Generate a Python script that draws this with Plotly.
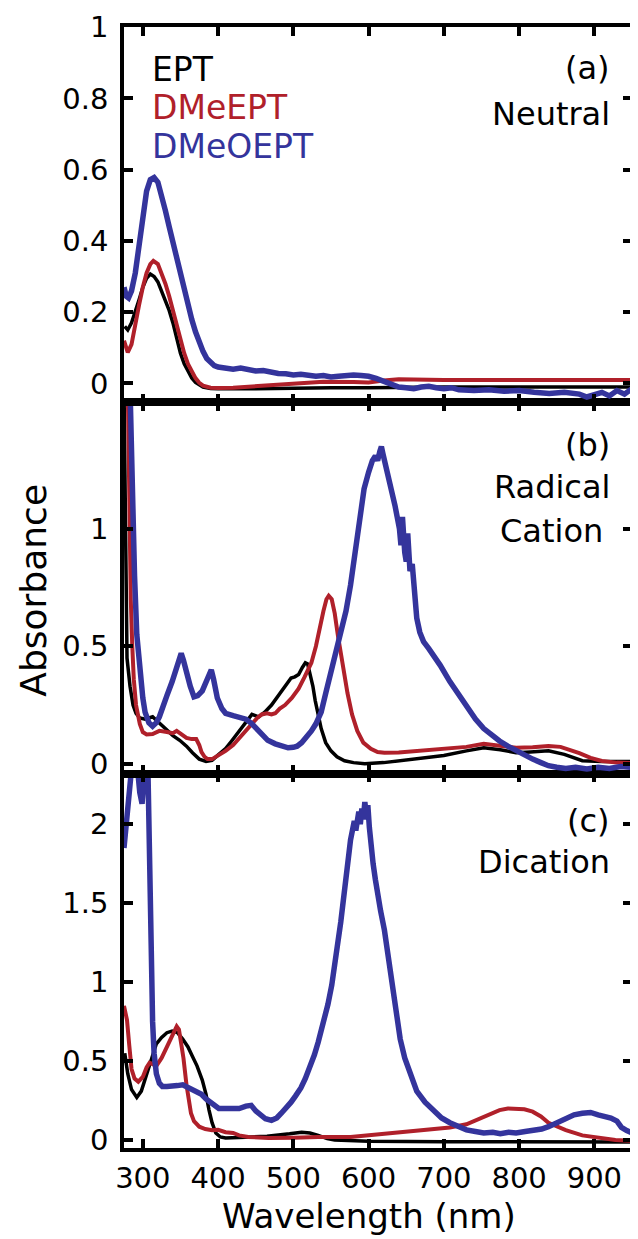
import plotly.graph_objects as go

# ---------------- data ----------------
# Panel (a) Neutral
wl_a_ept = [276, 280, 285, 290, 295, 300, 305, 310, 315, 320, 325, 330, 335, 340, 345, 350, 355, 360, 365, 370,
            380, 390, 400, 450, 500, 550, 600, 650, 700, 750, 800, 850, 900, 950]
abs_a_ept = [0.16, 0.15, 0.17, 0.20, 0.235, 0.27, 0.295, 0.307, 0.30, 0.285, 0.26, 0.235, 0.205, 0.17, 0.13, 0.085,
             0.055, 0.033, 0.015, 0.003, -0.01, -0.014, -0.015, -0.015, -0.013, -0.012, -0.012, -0.01, -0.01,
             -0.01, -0.01, -0.01, -0.01, -0.01]

wl_a_dme = [275, 280, 285, 290, 295, 300, 305, 310, 314, 320, 325, 330, 335, 340, 345, 350, 355, 360, 365, 370,
            375, 380, 390, 400, 420, 450, 480, 500, 540, 580, 600, 620, 640, 700, 800, 900, 950]
abs_a_dme = [0.12, 0.087, 0.11, 0.17, 0.22, 0.27, 0.31, 0.335, 0.344, 0.335, 0.31, 0.28, 0.245, 0.205, 0.165, 0.12,
             0.085, 0.055, 0.032, 0.015, 0.002, -0.006, -0.012, -0.013, -0.012, -0.008, -0.003, 0.0, 0.005, 0.004,
             0.003, 0.008, 0.012, 0.01, 0.01, 0.01, 0.01]

wl_a_dmeo = [275, 278, 281, 285, 290, 295, 300, 305, 310, 315, 320, 325, 330, 335, 340, 345, 350, 355, 360, 365,
             370, 375, 380, 385, 390, 395, 400, 410, 420, 430, 440, 450, 460, 470, 480, 490, 500, 510, 520, 530,
             540, 550, 560, 570, 580, 590, 600, 610, 620, 630, 640, 650, 660, 670, 680, 690, 700, 710, 720, 740,
             760, 780, 800, 820, 840, 860, 880, 890, 900, 910, 920, 930, 940, 950]
abs_a_dmeo = [0.27, 0.245, 0.24, 0.26, 0.31, 0.39, 0.47, 0.54, 0.572, 0.578, 0.565, 0.53, 0.485, 0.44, 0.395, 0.35,
              0.30, 0.26, 0.22, 0.18, 0.145, 0.115, 0.09, 0.07, 0.058, 0.05, 0.046, 0.042, 0.04, 0.043, 0.038,
              0.035, 0.036, 0.03, 0.028, 0.027, 0.024, 0.026, 0.022, 0.02, 0.022, 0.018, 0.02, 0.022, 0.024, 0.022,
              0.02, 0.014, 0.005, -0.005, -0.01, -0.012, -0.015, -0.01, -0.008, -0.012, -0.015, -0.012, -0.018,
              -0.02, -0.018, -0.022, -0.02, -0.025, -0.028, -0.025, -0.03, -0.038, -0.03, -0.025, -0.035, -0.02,
              -0.03, -0.015]

# Panel (b) Radical Cation
wl_b_ept = [275, 277, 279, 283, 287, 291, 296, 303, 308, 313, 318, 325, 332, 340, 349, 358, 366, 375, 384, 392,
            401, 410, 418, 428, 437, 445, 454, 462, 471, 478, 484, 490, 497, 502, 507, 512, 516, 519, 522, 526,
            529, 533, 537, 543, 550, 558, 568, 580, 595, 620, 664, 700, 730, 753, 775, 796, 815, 839, 860, 884,
            910, 950]
abs_b_ept = [1.6, 0.9, 0.45, 0.33, 0.25, 0.215, 0.195, 0.19, 0.195, 0.2, 0.185, 0.165, 0.14, 0.12, 0.1, 0.075,
             0.047, 0.02, 0.01, 0.015, 0.04, 0.065, 0.097, 0.14, 0.18, 0.21, 0.2, 0.22, 0.25, 0.28, 0.31, 0.335,
             0.365, 0.37, 0.38, 0.41, 0.43, 0.425, 0.39, 0.33, 0.27, 0.21, 0.15, 0.09, 0.055, 0.03, 0.013, 0.005,
             0.0, 0.005, 0.02, 0.035, 0.055, 0.068, 0.06, 0.047, 0.05, 0.055, 0.04, 0.013, 0.01, 0.01]

wl_b_dme = [280, 282, 284, 286, 288, 291, 296, 300, 305, 313, 322, 332, 340, 345, 350, 358, 365, 371, 375, 378,
            382, 386, 392, 400, 410, 420, 428, 437, 445, 452, 458, 465, 471, 476, 482, 489, 498, 507, 515, 524,
            530, 535, 540, 544, 547, 551, 555, 559, 565, 572, 578, 585, 593, 603, 612, 621, 640, 664, 690, 708,
            730, 753, 775, 796, 818, 839, 855, 868, 880, 895, 910, 930, 950]
abs_b_dme = [1.6, 1.0, 0.7, 0.5, 0.36, 0.25, 0.17, 0.135, 0.125, 0.127, 0.14, 0.135, 0.13, 0.14, 0.13, 0.11,
             0.105, 0.105, 0.08, 0.05, 0.03, 0.02, 0.02, 0.035, 0.055, 0.08, 0.11, 0.14, 0.17, 0.195, 0.21, 0.215,
             0.21, 0.215, 0.235, 0.25, 0.28, 0.32, 0.37, 0.43, 0.5, 0.58, 0.65, 0.7, 0.715, 0.7, 0.64, 0.55, 0.43,
             0.30, 0.21, 0.14, 0.09, 0.064, 0.05, 0.047, 0.048, 0.055, 0.06, 0.064, 0.072, 0.085, 0.075, 0.068,
             0.07, 0.076, 0.072, 0.06, 0.045, 0.025, 0.012, 0.005, 0.003]

wl_b_dmeo = [283, 285, 287, 289, 292, 296, 300, 303, 308, 313, 318, 322, 326, 332, 339, 345, 349, 351, 354, 358,
             363, 368, 373, 379, 385, 389, 391, 394, 399, 405, 410, 420, 428, 437, 445, 452, 458, 466, 476, 485,
             493, 500, 505, 511, 517, 524, 530, 537, 543, 550, 556, 563, 570, 576, 582, 588, 594, 600, 605, 609,
             612, 615, 617, 619, 622, 625, 629, 632, 635, 638, 641, 643, 645, 648, 650, 652, 655, 658, 661, 664,
             668, 673, 680, 687, 695, 708, 720, 730, 742, 753, 764, 774, 785, 796, 807, 818, 829, 839, 850, 862,
             875, 890, 905, 920, 935, 950]
abs_b_dmeo = [1.6, 1.3, 1.0, 0.8, 0.55, 0.4, 0.28, 0.22, 0.175, 0.16, 0.175, 0.2, 0.24, 0.29, 0.35, 0.42, 0.46,
              0.47, 0.44, 0.38, 0.33, 0.285, 0.29, 0.31, 0.36, 0.39, 0.40, 0.36, 0.28, 0.235, 0.215, 0.205, 0.2,
              0.19, 0.17, 0.145, 0.12, 0.1, 0.085, 0.075, 0.068, 0.07, 0.075, 0.09, 0.11, 0.14, 0.17, 0.22, 0.3,
              0.39, 0.46, 0.55, 0.65, 0.76, 0.9, 1.04, 1.17, 1.24, 1.29, 1.31, 1.29, 1.33, 1.35, 1.32, 1.28, 1.25,
              1.2, 1.15, 1.1, 1.05, 1.0, 0.93, 1.05, 0.9, 0.86, 0.98, 0.82, 0.85, 0.76, 0.62, 0.56, 0.52, 0.49,
              0.46, 0.42, 0.35, 0.29, 0.24, 0.19, 0.15, 0.12, 0.097, 0.075, 0.055, 0.04, 0.02, 0.005, -0.008,
              -0.015, -0.02, -0.015, -0.022, -0.015, -0.02, -0.012, -0.015]

# Panel (c) Dication
wl_c_ept = [276, 280, 285, 292, 298, 305, 312, 318, 325, 332, 339, 346, 353, 360, 366, 372, 379, 384, 388, 392,
            397, 403, 410, 430, 445, 465, 480, 495, 511, 522, 533, 545, 555, 600, 700, 800, 900, 950]
abs_c_ept = [0.55, 0.42, 0.32, 0.27, 0.31, 0.42, 0.53, 0.61, 0.65, 0.68, 0.69, 0.68, 0.64, 0.59, 0.53, 0.47, 0.38,
             0.29, 0.19, 0.11, 0.045, 0.02, 0.013, 0.015, 0.02, 0.025, 0.03, 0.04, 0.05, 0.045, 0.03, 0.01, 0.0,
             -0.008, -0.01, -0.01, -0.012, -0.012]

wl_c_dme = [275, 279, 282, 285, 289, 294, 300, 305, 309, 313, 318, 325, 332, 338, 342, 345, 348, 351, 354, 358,
            361, 364, 368, 375, 383, 392, 400, 410, 420, 428, 440, 467, 500, 533, 576, 621, 664, 708, 730, 743,
            760, 774, 785, 796, 807, 818, 829, 839, 850, 862, 884, 905, 928, 950]
abs_c_dme = [0.85, 0.76, 0.6, 0.45, 0.39, 0.37, 0.40, 0.46, 0.49, 0.48, 0.47, 0.52, 0.59, 0.65, 0.69, 0.72, 0.7,
             0.62, 0.52, 0.35, 0.24, 0.17, 0.12, 0.085, 0.07, 0.063, 0.065, 0.05, 0.045, 0.03, 0.02, 0.013, 0.015,
             0.02, 0.02, 0.04, 0.063, 0.08, 0.1, 0.127, 0.16, 0.19, 0.2, 0.2, 0.195, 0.18, 0.15, 0.11, 0.085,
             0.063, 0.03, 0.015, 0.0, -0.005]

wl_c_dmeo = [275, 278, 281, 284, 287, 290, 293, 296, 299, 302, 305, 307, 309, 311, 313, 315, 318, 322, 326, 332,
             339, 346, 353, 362, 371, 378, 384, 392, 401, 410, 418, 428, 437, 444, 450, 456, 463, 471, 478, 484,
             490, 497, 503, 510, 516, 522, 528, 533, 540, 546, 551, 555, 559, 563, 566, 568, 571, 574, 576, 579,
             581, 583, 585, 587, 589, 591, 593, 595, 597, 599, 601, 603, 606, 609, 612, 616, 621, 625, 629, 635,
             642, 648, 655, 664, 675, 687, 697, 708, 720, 730, 742, 753, 765, 775, 786, 796, 808, 818, 830, 839,
             850, 862, 873, 884, 895, 905, 914, 922, 930, 936, 943, 950]
abs_c_dmeo = [1.85, 2.0, 2.2, 2.4, 2.45, 2.4, 2.35, 2.2, 2.13, 2.3, 2.45, 2.3, 1.6, 1.1, 0.75, 0.55, 0.42, 0.36,
              0.34, 0.34, 0.34, 0.345, 0.35, 0.33, 0.31, 0.29, 0.26, 0.23, 0.2, 0.2, 0.2, 0.2, 0.215, 0.22, 0.185,
              0.16, 0.135, 0.125, 0.14, 0.17, 0.2, 0.24, 0.28, 0.33, 0.39, 0.46, 0.54, 0.62, 0.74, 0.86, 0.98,
              1.1, 1.22, 1.38, 1.5, 1.6, 1.71, 1.82, 1.9, 1.98, 2.02, 1.96, 2.05, 2.08, 2.0, 2.1, 2.03, 2.14, 2.06,
              2.12, 1.98, 1.85, 1.75, 1.65, 1.55, 1.45, 1.33, 1.2, 1.05, 0.85, 0.64, 0.52, 0.43, 0.31, 0.24, 0.18,
              0.14, 0.11, 0.085, 0.065, 0.055, 0.045, 0.05, 0.04, 0.05, 0.045, 0.055, 0.06, 0.07, 0.085, 0.11,
              0.14, 0.16, 0.17, 0.175, 0.16, 0.15, 0.14, 0.12, 0.08, 0.06, 0.045]

series_names = ["EPT", "DMeEPT", "DMeOEPT"]
x_ticks = [300, 400, 500, 600, 700, 800, 900]
y_ticks_a = [0, 0.2, 0.4, 0.6, 0.8, 1]
y_ticks_b = [0, 0.5, 1]
y_ticks_c = [0, 0.5, 1, 1.5, 2]

# ---------------- styling ----------------
BLACK = "#000000"
RED = "#b0202a"
BLUE = "#34349c"
colors = [BLACK, RED, BLUE]
widths = [3.5, 4, 5.5]
FONT = "DejaVu Sans"

# the page body has an 8 px margin; target pixel positions are in window coordinates
OFF = 8
W, H = 638 - OFF, 1239 - OFF
LEFT, RIGHT, TOP, BOTTOM = 124, 636, 25, 1148   # plot area in window pixels
ML, MT = LEFT - OFF, TOP - OFF
MR = W - (RIGHT - OFF)
MB = H - (BOTTOM - OFF)
plot_h = BOTTOM - TOP
plot_w = RIGHT - LEFT


def py(p):  # window pixel y -> paper
    return (BOTTOM - p) / plot_h


def px(p):  # window pixel x -> paper
    return (p - LEFT) / plot_w


fig = go.Figure()

panels = [
    ("x3", "y3", [(wl_a_ept, abs_a_ept), (wl_a_dme, abs_a_dme), (wl_a_dmeo, abs_a_dmeo)]),
    ("x2", "y2", [(wl_b_ept, abs_b_ept), (wl_b_dme, abs_b_dme), (wl_b_dmeo, abs_b_dmeo)]),
    ("x", "y", [(wl_c_ept, abs_c_ept), (wl_c_dme, abs_c_dme), (wl_c_dmeo, abs_c_dmeo)]),
]
for xa, ya, curves in panels:
    for i, (xs, ys) in enumerate(curves):
        fig.add_trace(go.Scatter(x=xs, y=ys, mode="lines", name=series_names[i],
                                 line=dict(color=colors[i], width=widths[i]),
                                 xaxis=xa, yaxis=ya, showlegend=False))

b1 = py(773)
b2 = py(401)

common_x = dict(range=[275, 950], tickvals=x_ticks, ticks="inside", ticklen=9, tickwidth=3.5,
                tickcolor=BLACK, showline=True, linewidth=3.5, linecolor=BLACK, mirror="ticks",
                showgrid=False, zeroline=False, tickfont=dict(family=FONT, size=29, color=BLACK))
common_y = dict(ticks="inside", ticklen=9, tickwidth=3.5, tickcolor=BLACK, showline=True, linewidth=3.5,
                linecolor=BLACK, mirror="ticks", showgrid=False, zeroline=False,
                tickfont=dict(family=FONT, size=29, color=BLACK), ticklabelstandoff=6)

fig.update_layout(
    width=W, height=H,
    margin=dict(l=ML, r=MR, t=MT, b=MB, pad=0),
    paper_bgcolor="white", plot_bgcolor="white",
    xaxis=dict(common_x, anchor="y", ticklabelstandoff=1),
    xaxis2=dict(common_x, anchor="y2", showticklabels=False),
    xaxis3=dict(common_x, anchor="y3", showticklabels=False),
    yaxis=dict(common_y, domain=[0, b1], range=[-0.05, 2.32], tickvals=y_ticks_c, anchor="x"),
    yaxis2=dict(common_y, domain=[b1, b2], range=[-0.042, 1.538], tickvals=y_ticks_b, anchor="x2"),
    yaxis3=dict(common_y, domain=[b2, 1], range=[-0.053, 1.0005], tickvals=y_ticks_a, anchor="x3"),
)

ann = []
# legend texts
for name, col, yp in zip(series_names, colors, [68, 106, 145]):
    ann.append(dict(text=name, x=px(150), y=py(yp), xref="paper", yref="paper", xanchor="left",
                    yanchor="middle", showarrow=False, font=dict(family=FONT, size=33, color=col)))
# panel labels
for txt, yp in [("(a)", 66), ("Neutral", 112), ("(b)", 444), ("(c)", 820), ("Dication", 861)]:
    ann.append(dict(text=txt, x=px(616), y=py(yp), xref="paper", yref="paper", xanchor="right",
                    yanchor="middle", showarrow=False, font=dict(family=FONT, size=32, color=BLACK)))
for txt, yp in [("Radical", 486), ("Cation", 530)]:
    ann.append(dict(text=txt, x=px(555), y=py(yp), xref="paper", yref="paper", xanchor="center",
                    yanchor="middle", showarrow=False, font=dict(family=FONT, size=32, color=BLACK)))
# axis titles
ann.append(dict(text="Absorbance", x=px(33), y=py(589), xref="paper", yref="paper", xanchor="center",
                yanchor="middle", textangle=-90, showarrow=False, font=dict(family=FONT, size=36, color=BLACK)))
ann.append(dict(text="Wavelength (nm)", x=px(371), y=py(1216), xref="paper", yref="paper", xanchor="center",
                yanchor="middle", showarrow=False, font=dict(family=FONT, size=34, color=BLACK)))
fig.update_layout(annotations=ann)

fig.write_html("out.html")
